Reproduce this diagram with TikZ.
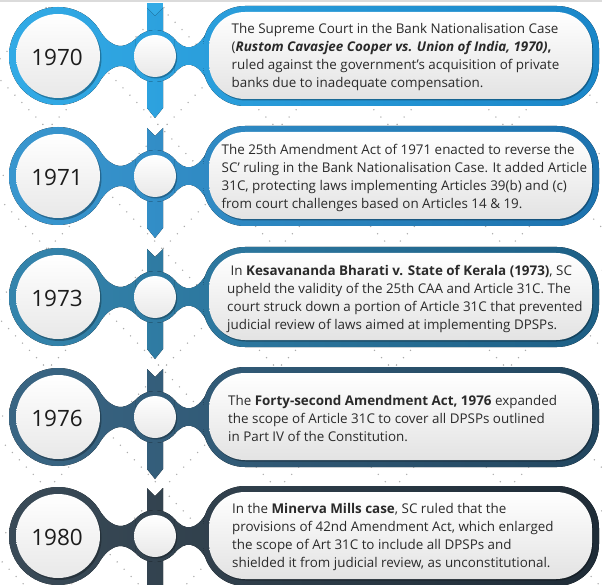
\documentclass[tikz,border=0pt]{standalone}
\usepackage{fontspec}
\setmainfont{Open Sans}
\definecolor{txtgray}{HTML}{2A2A2A}
\definecolor{yeargray}{HTML}{1C1C1C}
\definecolor{aL}{HTML}{33ABE6}\definecolor{aR}{HTML}{1A86C8}
\definecolor{bL}{HTML}{3A97CF}\definecolor{bR}{HTML}{1C72AE}
\definecolor{cL}{HTML}{3585AD}\definecolor{cR}{HTML}{1D5F85}
\definecolor{dL}{HTML}{3A6684}\definecolor{dR}{HTML}{22465F}
\definecolor{eL}{HTML}{3A4B58}\definecolor{eR}{HTML}{1F2C37}
\tikzset{
  bodytext/.style={anchor=west, align=left, text=txtgray, font=\fontsize{13.4}{18}\selectfont, inner sep=0pt},
  yeartext/.style={text=yeargray, font=\fontsize{22.5}{27}\selectfont, inner sep=0pt},
  dotline/.style={black!33, line width=1.1pt, dash pattern=on 1.1pt off 9pt},
  innershade/.style={top color=white, bottom color=black!9},
  bubbleshade/.style={top color=white, bottom color=black!11, rounded corners=36pt},
}
\newcommand\tlrow[7]{%
  \begin{scope}[rs/.style={path picture={\shade[left color=#2,right color=#3] (0,#1-65) rectangle (602,#1+65);}}]
    \fill[rs] (147,#1-48) -- (155,#1-40) -- (163,#1-48) -- (163,#1+52) -- (155,#1+62) -- (147,#1+52) -- cycle;
    \fill[rs] (58,#1) circle[radius=49pt];
    \fill[rs] (155,#1) circle[radius=26pt];
    \fill[rs] (101.3,#1-23) .. controls (113,#1-7) and (124,#1-7) .. (135.1,#1-16.7) -- (135.1,#1+16.7) .. controls (124,#1+7) and (113,#1+7) .. (101.3,#1+23) -- cycle;
    \fill[rs] (174.9,#1-16.7) .. controls (185,#1-5) and (196,#1-5) .. (207,#1-24) -- (207,#1+24) .. controls (196,#1+5) and (185,#1+5) .. (174.9,#1+16.7) -- cycle;
    \fill[rs, rounded corners=42pt] (203,#1-50) rectangle (599,#1+50);
  \end{scope}
  \fill[black, opacity=.28] (59.5,#1+2) circle[radius=42pt];
  \shade[innershade] (58,#1) circle[radius=42pt];
  \fill[black, opacity=.28] (156.2,#1+1.5) circle[radius=21pt];
  \shade[innershade] (155,#1) circle[radius=21pt];
  \fill[black, opacity=.3, rounded corners=36pt] (210,#1-43) rectangle (593,#1+44.5);
  \shade[bubbleshade] (209,#1-44) rectangle (592,#1+43);
  \node[yeartext] (#4y) at (57,#1+1) {#5};
  \node[bodytext] (#4t) at (#6,#1+1.5) {#7};
}
\begin{document}
\begin{tikzpicture}[x=1pt,y=-1pt]
\fill[white] (0,0) rectangle (602,585);
\useasboundingbox (0,0) rectangle (602,585);
\begin{scope}
  \clip (0,0) rectangle (602,585);
  \foreach \c in {-651.3,-536.3,...,1000} \draw[dotline] (\c,0) -- (\c+560.6,585);
  \foreach \c in {-58.7,56.3,...,1300} \draw[dotline] (\c,0) -- (\c-560.6,585);
\end{scope}
\fill[black!14] (0,0) rectangle (602,2.5);
\fill[aL] (147,3) rectangle (163,20);
\tlrow{56}{aL}{aR}{r1}{1970}{231.5}{The Supreme Court in the Bank Nationalisation Case\\(\textbf{\textit{Rustom Cavasjee Cooper vs. Union of India, 1970)}\textbf{,}}\\ruled against the government's acquisition of private\\banks due to inadequate compensation.}
\tlrow{176}{bL}{bR}{r2}{1971}{221.5}{The 25th Amendment Act of 1971 enacted to reverse the\\SC’ ruling in the Bank Nationalisation Case. It added Article\\31C, protecting laws implementing Articles 39(b) and (c)\\from court challenges based on Articles 14 \& 19.}
\tlrow{297}{cL}{cR}{r3}{1973}{227}{\hspace*{3.5pt}In \textbf{Kesavananda Bharati v. State of Kerala (1973)}, SC\\upheld the validity of the 25th CAA and Article 31C. The\\court struck down a portion of Article 31C that prevented\\judicial review of laws aimed at implementing DPSPs.}
\tlrow{417}{dL}{dR}{r4}{1976}{228}{The \textbf{Forty-second Amendment Act, 1976} expanded\\the scope of Article 31C to cover all DPSPs outlined\\in Part IV of the Constitution.}
\tlrow{536}{eL}{eR}{r5}{1980}{232}{In the \textbf{Minerva Mills case}, SC ruled that the\\provisions of 42nd Amendment Act, which enlarged\\the scope of Art 31C to include all DPSPs and\\shielded it from judicial review, as unconstitutional.}
\end{tikzpicture}
\end{document}
